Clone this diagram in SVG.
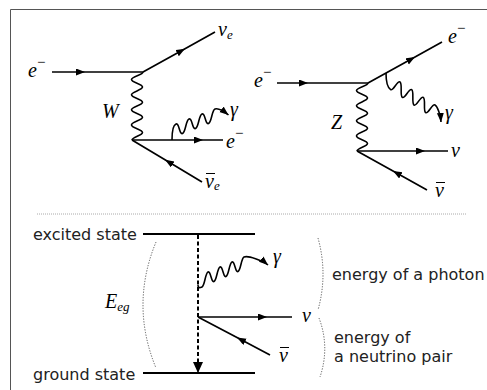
<svg xmlns="http://www.w3.org/2000/svg" width="487" height="390" viewBox="0 0 487 390">
<style>
.fl{fill:none;stroke:#000;stroke-width:1.7;marker-mid:url(#ah)}
.wv{fill:none;stroke:#000;stroke-width:1.6}
.ph{fill:none;stroke:#000;stroke-width:1.6;marker-end:url(#ah)}
.lv{fill:none;stroke:#000;stroke-width:2}
.dot{fill:none;stroke:#555;stroke-width:1;stroke-dasharray:1.2 1.5}
.bar{stroke:#000;stroke-width:1}
.m{font-family:"Liberation Serif","Times New Roman",serif;font-style:italic;font-size:20px;fill:#000}
.sb{font-size:13px}
.mi{font-style:normal;font-size:15px}
.t{font-family:"DejaVu Sans",Verdana,sans-serif;font-size:16px;fill:#222}
</style>
<defs>
<marker id="ah" markerUnits="userSpaceOnUse" markerWidth="10" markerHeight="8" refX="9" refY="3.5" orient="auto" viewBox="0 0 10 8">
<path d="M0,0 L9,3.5 L0,7 z" fill="#000"/>
</marker>
<marker id="ahd" markerUnits="userSpaceOnUse" markerWidth="12" markerHeight="12" refX="11" refY="5" orient="auto" viewBox="0 0 12 12">
<path d="M0,0 L11,5 L0,10 z" fill="#000"/>
</marker>
<path id="bw" d="M143,72 C143,75 131.5,76.6 131.5,79.6 C131.5,82.6 142.5,84.1 142.5,87.1 C142.5,90.1 131.5,91.7 131.5,94.7 C131.5,97.7 142.5,99.2 142.5,102.2 C142.5,105.2 131.5,106.8 131.5,109.8 C131.5,112.8 142.5,114.3 142.5,117.3 C142.5,120.3 131.5,121.9 131.5,124.9 C131.5,127.9 142.5,129.4 142.5,132.4 C142.5,135.4 132,137 132,140"/>
</defs>
<rect width="487" height="390" fill="#fff"/>
<path d="M10.5,390 V9.5 H487" fill="none" stroke="#555" stroke-width="1"/>
<path d="M37,214 H467" fill="none" stroke="#aaa" stroke-width="1" stroke-dasharray="1 1"/>

<g id="connectors">
<path class="fl" d="M52,72 L85,72 L143,72"/>
<path class="fl" d="M143,72 L185,48.7 L215,32"/>
<path class="fl" d="M132,140 L203,140 L223,140"/>
<path class="fl" d="M202,182 L165,159.8 L132,140"/>
<use href="#bw" class="wv"/>
<path class="ph" d="M172,140 C172,131 172.73,125.26 176,124 C179.27,122.74 179.23,134.76 182.5,133.5 C185.77,132.24 185.73,120.26 189,119 C192.27,117.74 192.23,129.76 195.5,128.5 C198.77,127.24 198.73,115.26 202,114 C205.27,112.74 205.23,124.76 208.5,123.5 C211.77,122.24 211.73,110.26 215,109 C218.27,107.74 224.8,112 228.5,115"/>
<path class="fl" d="M277,83 L308,83 L368,83"/>
<path class="fl" d="M368,83 L415,57 L442,42"/>
<path class="fl" d="M357,151 L425,151 L448,151"/>
<path class="fl" d="M427,190 L393,171 L357,151"/>
<use href="#bw" class="wv" transform="translate(225,11)"/>
<path class="ph" d="M386,73 C386,81 387.98,87.89 390.65,89.65 C393.32,91.41 397.33,80.24 400,82 C402.67,83.76 399.68,95.59 402.35,97.35 C405.02,99.11 409.03,87.94 411.7,89.7 C414.37,91.46 411.33,103.24 414,105 C416.67,106.76 420.63,95.54 423.3,97.3 C425.97,99.06 422.98,110.89 425.65,112.65 C428.32,114.41 432.33,103.24 435,105 C437.67,106.76 440.5,115 441,122"/>
<path class="lv" d="M143,234 H255"/>
<path class="lv" d="M143,373 H255"/>
<path d="M198,235 V373" fill="none" stroke="#000" stroke-width="2" stroke-dasharray="4 2.5" marker-end="url(#ahd)"/>
<path class="fl" d="M198,317 L267,317 L292,317"/>
<path class="fl" d="M270,355 L237,337.6 L198,317"/>
<path class="ph" d="M198,285 C198,288 199.23,288.15 202,287 C204.77,285.85 205.23,273.15 208,272 C210.77,270.85 211.23,282.65 214,281.5 C216.77,280.35 217.23,268.15 220,267 C222.77,265.85 223.23,277.65 226,276.5 C228.77,275.35 229.23,263.15 232,262 C234.77,260.85 235.23,272.65 238,271.5 C240.77,270.35 241.23,258.15 244,257 C248,255.3 262.7,260.4 268,265"/>
<path class="dot" d="M156,242 Q130,305 156,368"/>
<path class="dot" d="M318,238 Q328,274 318,310"/>
<path class="dot" d="M319,318 Q330,347 320,377"/>
</g>

<g id="w-labels">
<text class="m" x="28" y="77">e<tspan class="mi" dy="-10">−</tspan></text>
<text class="m" x="218" y="36">ν<tspan class="sb" dy="2.5">e</tspan></text>
<text class="m" x="102" y="118">W</text>
<text class="m" x="230" y="116">γ</text>
<text class="m" x="226" y="148">e<tspan class="mi" dy="-10">−</tspan></text>
<text class="m" x="205" y="188">ν<tspan class="sb" dy="2">e</tspan></text>
<line class="bar" x1="206" y1="173.5" x2="215" y2="173.5"/>
</g>
<g id="z-labels">
<text class="m" x="254" y="87">e<tspan class="mi" dy="-10">−</tspan></text>
<text class="m" x="448" y="43">e<tspan class="mi" dy="-10">−</tspan></text>
<text class="m" x="331" y="129">Z</text>
<text class="m" x="445" y="119">γ</text>
<text class="m" x="451" y="157">ν</text>
<text class="m" x="435" y="197">ν</text>
<line class="bar" x1="436" y1="182.5" x2="445" y2="182.5"/>
</g>
<g id="level-labels">
<text class="t" x="33" y="240">excited state</text>
<text class="t" x="33" y="380">ground state</text>
<text class="m" x="105" y="308">E<tspan class="sb" dy="3">eg</tspan></text>
<text class="m" x="273" y="263">γ</text>
<text class="m" x="302" y="322">ν</text>
<text class="m" x="279" y="362">ν</text>
<line class="bar" x1="280" y1="347.5" x2="289" y2="347.5"/>
<text class="t" x="332" y="280">energy of a photon</text>
<text class="t" x="334" y="343">energy of</text>
<text class="t" x="334" y="362">a neutrino pair</text>
</g>
</svg>
